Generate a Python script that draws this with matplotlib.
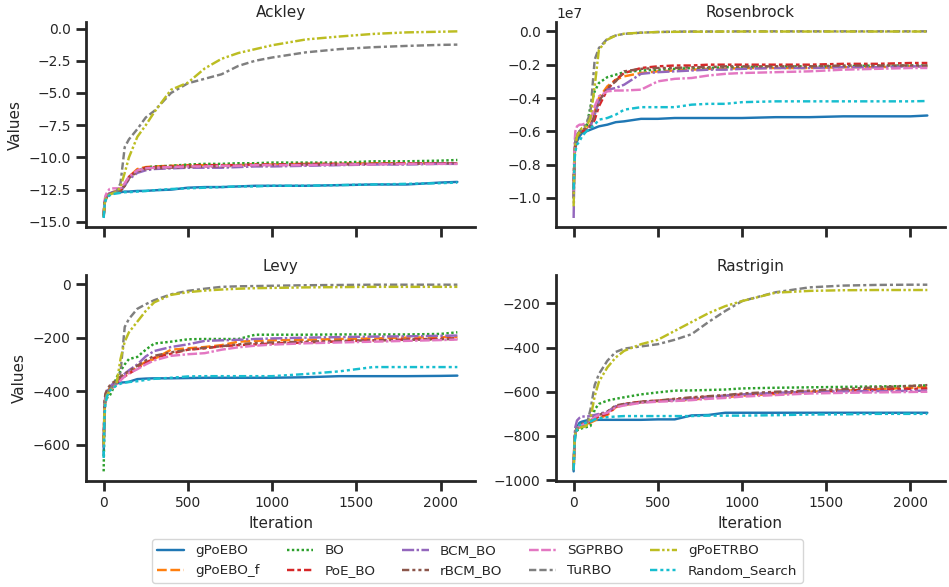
import matplotlib
matplotlib.use("Agg")
import matplotlib.pyplot as plt
import seaborn as sns

sns.set_theme(style="ticks")
plt.rcParams["font.family"] = ["DejaVu Sans"]
plt.rcParams.update({
    "axes.linewidth": 2.0,
    "xtick.major.width": 2.0,
    "ytick.major.width": 2.0,
    "xtick.major.size": 7.5,
    "ytick.major.size": 7.5,
    "xtick.labelsize": 10,
    "ytick.labelsize": 10,
    "axes.labelsize": 11,
    "axes.titlesize": 11,
    "axes.titlepad": 3.5,
    "lines.linewidth": 1.75,
})

# iterations at which the best-so-far values were sampled
ITERS = [0, 5, 10, 20, 35, 50, 75, 100, 125, 150, 200, 250, 300, 400, 500,
         600, 700, 800, 900, 1000, 1200, 1400, 1600, 1800, 2000, 2100]

METHODS = ["gPoEBO", "gPoEBO_f", "BO", "PoE_BO", "BCM_BO", "rBCM_BO",
           "SGPRBO", "TuRBO", "gPoETRBO", "Random_Search"]

COLORS = ["#1f77b4", "#ff7f0e", "#2ca02c", "#d62728", "#9467bd",
          "#8c564b", "#e377c2", "#7f7f7f", "#bcbd22", "#17becf"]

DASHES = ["", (4, 1.5), (1, 1), (3, 1.25, 1.5, 1.25), (5, 1, 1, 1),
          (3, 1.25, 1.25, 1.25, 1.25, 1.25), (4, 1, 4, 1, 1, 1),
          (3, 1.25, 3, 1.25, 1.25, 1.25), (4, 1, 1, 1, 1, 1),
          (3, 1.25, 1.25, 1.25, 1.25, 1.25, 1.25, 1.25)]

ackley = {
    "gPoEBO": [-14.6, -13.6, -13.2, -12.95, -12.8, -12.75, -12.7, -12.7, -12.65, -12.65, -12.6, -12.6, -12.55,
               -12.5, -12.35, -12.3, -12.3, -12.25, -12.2, -12.2, -12.2, -12.15, -12.1, -12.1, -11.95, -11.9],
    "gPoEBO_f": [-14.5, -13.7, -13.3, -13.0, -12.8, -12.7, -12.6, -12.5, -12.1, -11.5, -10.9, -10.75, -10.7,
                 -10.65, -10.6, -10.6, -10.6, -10.6, -10.55, -10.55, -10.5, -10.5, -10.45, -10.45, -10.45, -10.45],
    "BO": [-14.4, -13.6, -13.3, -13.0, -12.9, -12.8, -12.7, -12.6, -12.2, -11.6, -11.0, -10.8, -10.7,
           -10.65, -10.55, -10.5, -10.5, -10.45, -10.45, -10.4, -10.4, -10.4, -10.3, -10.3, -10.25, -10.2],
    "PoE_BO": [-14.5, -13.5, -13.2, -12.9, -12.8, -12.75, -12.7, -12.6, -12.1, -11.5, -11.0, -10.8, -10.75,
               -10.7, -10.65, -10.6, -10.6, -10.6, -10.55, -10.55, -10.5, -10.5, -10.5, -10.45, -10.45, -10.45],
    "BCM_BO": [-14.6, -13.7, -13.3, -13.0, -12.8, -12.7, -12.65, -12.6, -12.2, -11.7, -11.2, -11.0, -10.9,
               -10.85, -10.8, -10.8, -10.8, -10.75, -10.7, -10.7, -10.65, -10.6, -10.55, -10.55, -10.5, -10.5],
    "rBCM_BO": [-14.5, -13.6, -13.3, -13.0, -12.85, -12.75, -12.7, -12.6, -12.2, -11.6, -11.1, -10.9, -10.85,
                -10.8, -10.75, -10.7, -10.7, -10.65, -10.6, -10.6, -10.55, -10.55, -10.5, -10.5, -10.45, -10.45],
    "SGPRBO": [-14.4, -13.4, -13.0, -12.7, -12.45, -12.4, -12.4, -12.4, -12.0, -11.5, -11.0, -10.85, -10.8,
               -10.75, -10.7, -10.7, -10.65, -10.65, -10.6, -10.6, -10.6, -10.55, -10.55, -10.5, -10.5, -10.5],
    "TuRBO": [-14.5, -13.6, -13.3, -13.0, -12.9, -12.8, -12.7, -12.0, -9.2, -8.6, -7.8, -6.9, -6.4,
              -5.0, -4.25, -3.9, -3.55, -2.9, -2.5, -2.25, -1.85, -1.6, -1.45, -1.35, -1.27, -1.25],
    "gPoETRBO": [-14.6, -13.7, -13.3, -13.0, -12.9, -12.8, -12.7, -12.3, -11.2, -10.0, -8.4, -7.5, -6.5,
                 -4.75, -4.2, -3.1, -2.35, -1.9, -1.6, -1.3, -0.85, -0.62, -0.42, -0.3, -0.25, -0.22],
    "Random_Search": [-14.7, -13.8, -13.4, -13.1, -12.95, -12.85, -12.8, -12.75, -12.7, -12.7, -12.65, -12.6, -12.55,
                      -12.45, -12.4, -12.35, -12.3, -12.25, -12.25, -12.2, -12.2, -12.15, -12.1, -12.05, -12.0, -11.95],
}

# Rosenbrock values in units of 1e7
ROSEN_UNIT = 1e7
rosenbrock = {
    "gPoEBO": [-1.0, -0.75, -0.7, -0.66, -0.63, -0.61, -0.6, -0.59, -0.58, -0.57, -0.56, -0.545, -0.54,
               -0.525, -0.525, -0.52, -0.52, -0.52, -0.52, -0.52, -0.515, -0.515, -0.51, -0.51, -0.51, -0.505],
    "gPoEBO_f": [-0.95, -0.74, -0.68, -0.64, -0.61, -0.6, -0.58, -0.56, -0.48, -0.4, -0.33, -0.29, -0.27,
                 -0.25, -0.24, -0.235, -0.23, -0.225, -0.225, -0.22, -0.22, -0.22, -0.215, -0.215, -0.21, -0.21],
    "BO": [-0.95, -0.74, -0.68, -0.64, -0.61, -0.6, -0.58, -0.45, -0.36, -0.31, -0.275, -0.26, -0.245,
           -0.235, -0.23, -0.225, -0.22, -0.22, -0.215, -0.215, -0.21, -0.21, -0.21, -0.205, -0.205, -0.205],
    "PoE_BO": [-1.0, -0.73, -0.67, -0.63, -0.61, -0.6, -0.59, -0.58, -0.53, -0.45, -0.35, -0.29, -0.25,
               -0.22, -0.21, -0.205, -0.205, -0.2, -0.2, -0.2, -0.2, -0.2, -0.195, -0.195, -0.19, -0.19],
    "BCM_BO": [-1.12, -0.75, -0.68, -0.63, -0.6, -0.59, -0.58, -0.57, -0.5, -0.42, -0.35, -0.34, -0.32,
               -0.255, -0.245, -0.24, -0.235, -0.23, -0.23, -0.225, -0.22, -0.22, -0.215, -0.215, -0.21, -0.21],
    "rBCM_BO": [-0.9, -0.72, -0.67, -0.63, -0.6, -0.59, -0.58, -0.57, -0.5, -0.42, -0.34, -0.3, -0.24,
                -0.225, -0.22, -0.22, -0.215, -0.215, -0.21, -0.21, -0.21, -0.21, -0.205, -0.205, -0.205, -0.205],
    "SGPRBO": [-1.0, -0.68, -0.6, -0.57, -0.56, -0.56, -0.55, -0.53, -0.45, -0.39, -0.36, -0.355, -0.355,
               -0.35, -0.3, -0.285, -0.28, -0.265, -0.255, -0.25, -0.245, -0.24, -0.23, -0.225, -0.22, -0.22],
    "TuRBO": [-1.0, -0.72, -0.66, -0.62, -0.6, -0.58, -0.56, -0.48, -0.17, -0.1, -0.045, -0.025, -0.015,
              -0.008, -0.004, -0.002, -0.001, -0.001, -0.001, 0.0, 0.0, 0.0, 0.0, 0.0, 0.0, 0.0],
    "gPoETRBO": [-1.05, -0.75, -0.68, -0.63, -0.6, -0.58, -0.57, -0.52, -0.33, -0.11, -0.05, -0.025, -0.014,
                 -0.008, -0.004, -0.003, -0.002, -0.002, -0.001, -0.001, -0.001, -0.001, -0.001, -0.001, -0.001, -0.001],
    "Random_Search": [-0.95, -0.78, -0.72, -0.68, -0.66, -0.63, -0.6, -0.58, -0.56, -0.53, -0.52, -0.5, -0.47,
                      -0.455, -0.455, -0.455, -0.44, -0.435, -0.435, -0.425, -0.42, -0.42, -0.42, -0.42, -0.42, -0.418],
}

levy = {
    "gPoEBO": [-640, -470, -430, -405, -390, -380, -372, -368, -367, -365, -355, -353, -352,
               -352, -351, -350, -350, -350, -350, -350, -348, -344, -344, -344, -343, -342],
    "gPoEBO_f": [-600, -455, -425, -405, -390, -380, -370, -355, -342, -330, -310, -290, -280,
                 -245, -240, -235, -228, -215, -212, -210, -208, -205, -203, -200, -198, -197],
    "BO": [-700, -480, -440, -425, -418, -400, -350, -325, -300, -280, -272, -245, -222,
           -215, -206, -205, -205, -205, -189, -189, -189, -188, -188, -188, -186, -180],
    "PoE_BO": [-610, -460, -425, -405, -390, -380, -370, -355, -345, -335, -315, -295, -275,
               -260, -245, -240, -232, -228, -225, -222, -218, -214, -210, -207, -204, -202],
    "BCM_BO": [-600, -450, -420, -400, -385, -375, -365, -350, -335, -322, -300, -270, -250,
               -235, -225, -212, -210, -208, -205, -203, -200, -198, -196, -195, -193, -192],
    "rBCM_BO": [-590, -440, -410, -395, -380, -370, -360, -345, -335, -325, -305, -285, -268,
                -255, -245, -238, -232, -225, -220, -218, -215, -212, -210, -208, -206, -205],
    "SGPRBO": [-610, -470, -435, -415, -400, -390, -375, -360, -345, -333, -318, -300, -285,
               -268, -262, -258, -245, -236, -230, -226, -221, -218, -215, -212, -209, -207],
    "TuRBO": [-600, -460, -430, -410, -395, -385, -370, -330, -160, -130, -92, -75, -60,
              -38, -25, -17, -10, -8, -7, -6, -4, -3, -2, -2, -2, -2],
    "gPoETRBO": [-600, -470, -440, -415, -400, -390, -378, -280, -215, -180, -140, -100, -68,
                 -40, -30, -24, -20, -17, -15, -14, -12, -11, -10, -10, -10, -10],
    "Random_Search": [-650, -500, -450, -420, -400, -390, -380, -372, -368, -366, -363, -358, -354,
                      -350, -345, -344, -344, -344, -344, -344, -336, -326, -310, -310, -310, -310],
}

rastrigin = {
    "gPoEBO": [-960, -830, -790, -760, -740, -735, -730, -728, -728, -727, -727, -727, -727,
               -727, -725, -725, -707, -705, -695, -695, -695, -695, -695, -695, -695, -695],
    "gPoEBO_f": [-950, -830, -790, -770, -760, -755, -750, -740, -730, -720, -705, -670, -660,
                 -648, -642, -640, -636, -628, -625, -618, -610, -600, -595, -588, -582, -578],
    "BO": [-930, -820, -790, -775, -770, -765, -760, -755, -680, -655, -640, -632, -625,
           -612, -603, -595, -594, -592, -590, -585, -582, -580, -578, -576, -574, -571],
    "PoE_BO": [-945, -820, -785, -765, -755, -750, -745, -735, -722, -712, -700, -668, -655,
               -645, -640, -635, -628, -622, -618, -612, -605, -600, -595, -590, -587, -585],
    "BCM_BO": [-940, -800, -760, -730, -718, -712, -712, -710, -705, -700, -690, -665, -658,
               -648, -642, -638, -632, -625, -618, -612, -605, -600, -598, -597, -596, -595],
    "rBCM_BO": [-955, -820, -780, -760, -750, -745, -740, -730, -715, -705, -690, -662, -655,
                -645, -640, -632, -625, -620, -615, -608, -600, -595, -588, -580, -574, -570],
    "SGPRBO": [-950, -825, -785, -765, -755, -750, -742, -728, -715, -705, -695, -670, -662,
               -650, -645, -642, -638, -632, -628, -622, -615, -608, -605, -603, -601, -600],
    "TuRBO": [-955, -820, -780, -765, -760, -758, -755, -680, -570, -520, -460, -420, -405,
              -395, -385, -365, -340, -285, -235, -190, -150, -128, -120, -117, -116, -116],
    "gPoETRBO": [-950, -830, -790, -770, -762, -760, -755, -720, -620, -555, -490, -445, -415,
                 -385, -365, -325, -285, -245, -213, -190, -152, -144, -141, -140, -140, -140],
    "Random_Search": [-955, -840, -800, -770, -750, -745, -740, -735, -725, -720, -715, -712, -710,
                      -710, -710, -710, -710, -708, -708, -708, -706, -703, -702, -700, -700, -700],
}

panels = [("Ackley", ackley, 1.0), ("Rosenbrock", rosenbrock, ROSEN_UNIT),
          ("Levy", levy, 1.0), ("Rastrigin", rastrigin, 1.0)]

fig, axes = plt.subplots(2, 2, figsize=(9.49, 5.87), dpi=100, sharex=True)
fig.subplots_adjust(left=0.0906, right=0.9958, top=0.9625, bottom=0.1811,
                    wspace=0.208, hspace=0.234)

for ax, (name, data, unit) in zip(axes.flat, panels):
    for method, color, dash in zip(METHODS, COLORS, DASHES):
        vals = [v * unit for v in data[method]]
        line, = ax.plot(ITERS, vals, color=color, label=method)
        if dash:
            line.set_dashes(dash)
    ax.set_title(name)
    sns.despine(ax=ax)

for ax in axes[:, 0]:
    ax.set_ylabel("Values")
for ax in axes[1, :]:
    ax.set_xlabel("Iteration")
axes[1, 0].set_xticks([0, 500, 1000, 1500, 2000])

handles, labels = axes[0, 0].get_legend_handles_labels()
fig.legend(handles, labels, loc="lower center", bbox_to_anchor=(0.503, -0.004),
           ncol=5, fontsize=9.7, frameon=True)

fig.savefig("out.png", dpi=100)
